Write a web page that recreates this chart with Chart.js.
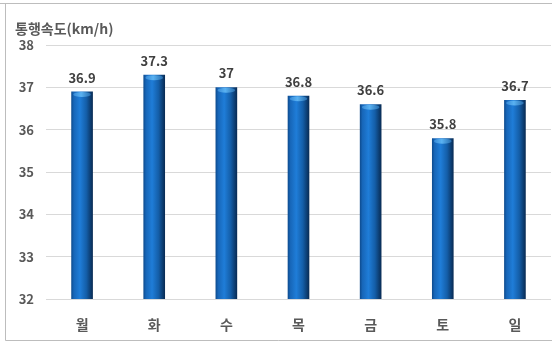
<!DOCTYPE html>
<html><head><meta charset="utf-8">
<script src="https://cdn.jsdelivr.net/npm/chart.js@4/dist/chart.umd.min.js"></script>
<style>
html,body{margin:0;padding:0;background:#fff;}
#wrap{position:absolute;left:0;top:0;width:552px;height:344px;}
</style></head>
<body>
<div id="wrap"><canvas id="c" width="552" height="344"></canvas></div>
<script>
const categories = ['월','화','수','목','금','토','일'];
const speeds = [36.9, 37.3, 37, 36.8, 36.6, 35.8, 36.7];
const yTicks = [32, 33, 34, 35, 36, 37, 38];
const axisTitle = '통행속도(km/h)';

const FONT = "'Noto Sans CJK KR', 'Malgun Gothic', sans-serif";
const BAR_PCT = 0.3;

function barGradient(context) {
  const chart = context.chart;
  const xs = chart.scales && chart.scales.x;
  if (!xs || context.dataIndex === undefined) return '#1766b8';
  const cx = xs.getPixelForValue(context.dataIndex);
  const w = (xs.width / categories.length) * BAR_PCT;
  const l = cx - w / 2, r = cx + w / 2;
  if (!isFinite(l) || !isFinite(r)) return '#1766b8';
  const g = chart.ctx.createLinearGradient(l, 0, r, 0);
  g.addColorStop(0, '#0d4a8c');
  g.addColorStop(0.12, '#1766b8');
  g.addColorStop(0.4, '#1f7dd8');
  g.addColorStop(0.7, '#145ea8');
  g.addColorStop(1, '#082a52');
  return g;
}

const framePlugin = {
  id: 'frame',
  beforeDraw(chart) {
    const ctx = chart.ctx;
    ctx.save();
    ctx.fillStyle = '#ffffff';
    ctx.fillRect(0, 0, chart.width, chart.height);
    ctx.strokeStyle = '#bdbdbd';
    ctx.lineWidth = 1;
    ctx.beginPath();
    ctx.moveTo(0, 3.5); ctx.lineTo(chart.width, 3.5);
    ctx.moveTo(5.5, 4); ctx.lineTo(5.5, 340.5);
    ctx.lineTo(chart.width, 340.5);
    ctx.stroke();
    ctx.fillStyle = '#595959';
    ctx.font = "bold 14px " + FONT;
    ctx.textBaseline = 'middle';
    ctx.textAlign = 'left';
    ctx.fillText(axisTitle, 15, 29);
    ctx.restore();
  }
};

const barDecorPlugin = {
  id: 'barDecor',
  afterDatasetsDraw(chart) {
    const ctx = chart.ctx;
    const meta = chart.getDatasetMeta(0);
    ctx.save();
    meta.data.forEach((el, i) => {
      const w = el.width;
      const g = ctx.createLinearGradient(el.x - w/2, 0, el.x + w/2, 0);
      g.addColorStop(0, '#2d7fcf');
      g.addColorStop(0.45, '#5ab2f2');
      g.addColorStop(1, '#1d5fa0');
      ctx.fillStyle = g;
      ctx.beginPath();
      ctx.ellipse(el.x, el.y + 3, w/2 - 2, 2.5, 0, 0, Math.PI * 2);
      ctx.fill();
      ctx.fillStyle = '#404040';
      ctx.font = "bold 13px " + FONT;
      ctx.textAlign = 'center';
      ctx.textBaseline = 'middle';
      ctx.fillText(String(speeds[i]), el.x, el.y - 14);
    });
    ctx.restore();
  }
};

new Chart(document.getElementById('c'), {
  type: 'bar',
  data: {
    labels: categories,
    datasets: [{
      data: speeds,
      backgroundColor: barGradient,
      borderWidth: 0,
      barPercentage: BAR_PCT,
      categoryPercentage: 1.0
    }]
  },
  options: {
    responsive: false,
    animation: false,
    events: [],
    layout: { padding: { top: 45, left: 6, right: 1, bottom: 0 } },
    plugins: { legend: { display: false }, tooltip: { enabled: false }, title: { display: false } },
    scales: {
      x: {
        grid: { display: false, drawTicks: false },
        border: { display: false },
        ticks: { color: '#595959', font: { family: FONT, size: 14, weight: 'bold' }, padding: 17 },
        afterFit(s) { s.height = 45; }
      },
      y: {
        min: 32, max: 38,
        afterBuildTicks(s) { s.ticks = yTicks.map(v => ({ value: v })); },
        grid: { color: '#d9d9d9', drawTicks: false },
        border: { display: false },
        ticks: { color: '#595959', font: { family: FONT, size: 13, weight: 'bold' }, padding: 12 },
        afterFit(s) { s.width = 40; }
      }
    }
  },
  plugins: [framePlugin, barDecorPlugin]
});
</script>
</body></html>
